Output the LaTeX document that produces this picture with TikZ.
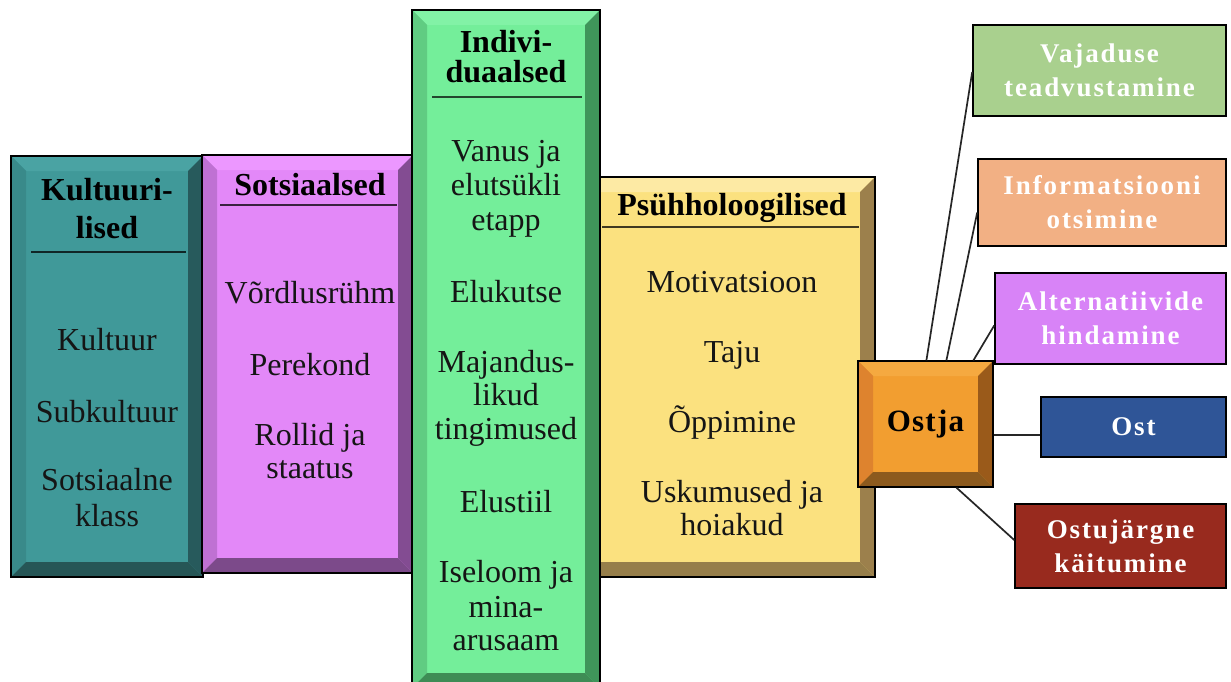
\documentclass[tikz,border=0pt]{standalone}
\usepackage{fontspec}
\setmainfont{Liberation Serif}
\usetikzlibrary{calc}
\definecolor{kultF}{HTML}{409999}
\definecolor{kultT}{HTML}{4AA3A3}
\definecolor{kultL}{HTML}{398A8A}
\definecolor{kultR}{HTML}{275A5C}
\definecolor{kultB}{HTML}{265656}
\definecolor{sotsF}{HTML}{E388F8}
\definecolor{sotsT}{HTML}{EC97FF}
\definecolor{sotsL}{HTML}{BF71D3}
\definecolor{sotsR}{HTML}{834C92}
\definecolor{sotsB}{HTML}{7C4A8A}
\definecolor{indF}{HTML}{74EE9A}
\definecolor{indT}{HTML}{82F2A6}
\definecolor{indL}{HTML}{60CC82}
\definecolor{indR}{HTML}{3F955A}
\definecolor{indB}{HTML}{3E8C55}
\definecolor{psyF}{HTML}{FBE17F}
\definecolor{psyT}{HTML}{FDEAA4}
\definecolor{psyL}{HTML}{E0C870}
\definecolor{psyR}{HTML}{9C804C}
\definecolor{psyB}{HTML}{967E4A}
\definecolor{ostF}{HTML}{F29E30}
\definecolor{ostT}{HTML}{F5A940}
\definecolor{ostL}{HTML}{DE832E}
\definecolor{ostR}{HTML}{9A5A1A}
\definecolor{ostB}{HTML}{8C5A1E}
\definecolor{vajC}{HTML}{A9D08E}
\definecolor{infC}{HTML}{F2B084}
\definecolor{altC}{HTML}{D883F7}
\definecolor{ostC}{HTML}{2F5597}
\definecolor{ojC}{HTML}{982A1E}
\definecolor{txt}{HTML}{151515}
\tikzset{
  bevel/.style n args={5}{fill=#1, draw=black, line width=1.2pt, inner sep=0pt,
    path picture={
      \coordinate (pNW) at (path picture bounding box.north west);
      \coordinate (pNE) at (path picture bounding box.north east);
      \coordinate (pSW) at (path picture bounding box.south west);
      \coordinate (pSE) at (path picture bounding box.south east);
      \fill[#2] (pNW) -- (pNE) -- ($(pNE)+(-15pt,-15pt)$) -- ($(pNW)+(15pt,-15pt)$) -- cycle;
      \fill[#3] (pNW) -- ($(pNW)+(15pt,-15pt)$) -- ($(pSW)+(15pt,15pt)$) -- (pSW) -- cycle;
      \fill[#4] (pNE) -- (pSE) -- ($(pSE)+(-15pt,15pt)$) -- ($(pNE)+(-15pt,-15pt)$) -- cycle;
      \fill[#5] (pSW) -- (pSE) -- ($(pSE)+(-15pt,15pt)$) -- ($(pSW)+(15pt,15pt)$) -- cycle;
    }},
  hdr/.style={font=\fontsize{32}{38}\selectfont\bfseries, anchor=base, inner sep=0pt, text=black},
  bodytxt/.style={font=\fontsize{32}{34}\selectfont, anchor=base, inner sep=0pt, text=txt},
  divider/.style={line width=2pt},
  rbox/.style={draw=black, line width=1.6pt, inner sep=0pt, text=white, align=center,
    font=\fontsize{27}{34}\selectfont\bfseries\addfontfeature{LetterSpace=7}},
  conn/.style={line width=1.7pt, black!85},
}
\begin{document}
\begin{tikzpicture}[x=1pt,y=-1pt]
\useasboundingbox[fill=white] (0,0) rectangle (1231,682);
% columns
\node[bevel={kultF}{kultT}{kultL}{kultR}{kultB}, minimum width=192pt, minimum height=421pt] (kult) at (107,366.5) {};
\node[bevel={sotsF}{sotsT}{sotsL}{sotsR}{sotsB}, minimum width=211pt, minimum height=418pt] (sots) at (307.5,364) {};
\node[bevel={psyF}{psyT}{psyL}{psyR}{psyB}, minimum width=290pt, minimum height=400pt] (psy) at (730,377) {};
\node[bevel={indF}{indT}{indL}{indR}{indB}, minimum width=188pt, minimum height=678pt] (ind) at (506,349) {};
\node[bevel={ostF}{ostT}{ostL}{ostR}{ostB}, minimum width=135pt, minimum height=126pt,
  font=\fontsize{31}{34}\selectfont\bfseries\addfontfeature{LetterSpace=4}] (ostja) at (925.5,424) {Ostja};
% right boxes
\node[rbox, fill=vajC, minimum width=253pt, minimum height=91pt] (vaj) at (1099.5,70.5) {Vajaduse\\teadvustamine};
\node[rbox, fill=infC, minimum width=248pt, minimum height=87pt] (info) at (1102,202.5) {Informatsiooni\\otsimine};
\node[rbox, fill=altC, minimum width=231pt, minimum height=91pt] (alt) at (1110.5,318.5) {Alternatiivide\\hindamine};
\node[rbox, fill=ostC, minimum width=185pt, minimum height=60pt] (ost) at (1133.5,427) {Ost};
\node[rbox, fill=ojC, minimum width=211pt, minimum height=84pt] (oj) at (1120.5,546) {Ostujärgne\\käitumine};
% connectors
\draw[conn] ([xshift=69pt]ostja.north west) -- ([yshift=-1.5pt]vaj.west);
\draw[conn] ([xshift=89pt]ostja.north west) -- ([yshift=-10pt]info.west);
\draw[conn] ([xshift=116pt]ostja.north west) -- ([yshift=-7pt]alt.west);
\draw[conn] ([yshift=-11pt]ostja.east) -- ([yshift=-11pt]ostja.east -| ost.west);
\draw[conn] ([xshift=99pt]ostja.south west) -- ([yshift=6pt]oj.west);
% Kultuurilised
\node[hdr] (kh1) at (107,200) {Kultuuri-};
\node[hdr] (kh2) at (107,238) {lised};
\draw[divider, kultF!25!black] (31,252) -- (186,252);
\foreach \t/\y [count=\i] in {Kultuur/350,Subkultuur/422,Sotsiaalne/490,klass/526}
  \node[bodytxt] (kb\i) at (107,\y) {\t};
% Sotsiaalsed
\node[hdr] (sh1) at (310,195) {Sotsiaalsed};
\draw[divider, sotsF!25!black] (220,205) -- (397,205);
\foreach \t/\y [count=\i] in {Võrdlusrühm/303,Perekond/375,Rollid ja/445,staatus/478}
  \node[bodytxt] (sb\i) at (310,\y) {\t};
% Individuaalsed
\node[hdr] (ih1) at (506,53) {Indivi-};
\node[hdr] (ih2) at (506,83) {duaalsed};
\draw[divider, indF!30!black] (432,97) -- (582,97);
\foreach \t/\y [count=\i] in {Vanus ja/161,elutsükli/195,etapp/230,Elukutse/302,Majandus-/372,likud/405,tingimused/439,Elustiil/512,Iseloom ja/582,mina-/617,arusaam/650}
  \node[bodytxt] (ib\i) at (506,\y) {\t};
% Psühholoogilised
\node[hdr] (ph1) at (732,215) {Psühholoogilised};
\draw[divider, psyF!25!black] (602,227) -- (859,227);
\foreach \t/\y [count=\i] in {Motivatsioon/292,Taju/362,Õppimine/432,Uskumused ja/502,hoiakud/535}
  \node[bodytxt] (pb\i) at (732,\y) {\t};
\end{tikzpicture}
\end{document}
